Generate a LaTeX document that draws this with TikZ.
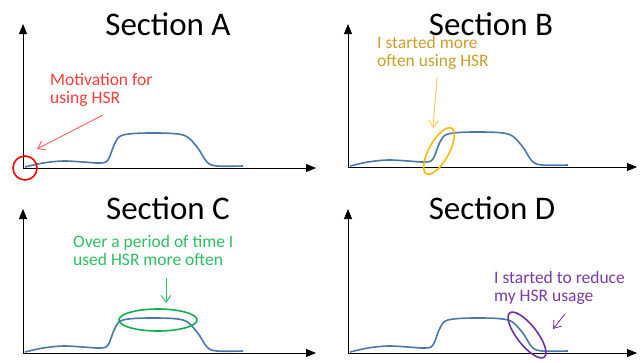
\documentclass[tikz,border=0pt]{standalone}
\usepackage{fontspec}
\setmainfont{Carlito}
\usetikzlibrary{arrows.meta,shapes.geometric}
\definecolor{curveblue}{HTML}{4A78AA}
\definecolor{notered}{HTML}{FF3B3B}
\definecolor{arrowred}{HTML}{FF6060}
\definecolor{ringred}{HTML}{FF0000}
\definecolor{notegold}{HTML}{C9A02A}
\definecolor{ringgold}{HTML}{FFBB00}
\definecolor{arrowgold}{HTML}{FFC84A}
\definecolor{notegreen}{HTML}{2EBE62}
\definecolor{ringgreen}{HTML}{10B050}
\definecolor{notepurple}{HTML}{7A3AA6}
\definecolor{ringpurple}{HTML}{7030A0}
\begin{document}
\begin{tikzpicture}[x=1pt,y=-1pt,
  axis/.style={line width=0.8pt,-{Triangle[length=10pt,width=8pt]}},
  usage/.style={draw=curveblue,line width=1.6pt},
  usagecurve/.pic={\draw[usage] plot[smooth,tension=0.55] coordinates {(2,-1) (20,-5) (40,-7) (60,-6) (77,-5) (85,-8) (92,-25) (100,-33) (127,-35) (160,-33) (174,-21) (184,-6) (194,-2) (220,-2)};},
  sectitle/.style={font=\fontsize{33}{36}\selectfont,anchor=base,inner sep=0pt},
  note/.style={font=\fontsize{17.5}{18}\selectfont,align=left,anchor=base west,inner sep=0pt},
  pointer/.style={line width=0.9pt,-{Straight Barb[length=7pt,width=10pt]}},
  ringmark/.style={draw,ellipse,line width=1.6pt,inner sep=0pt}
]
\useasboundingbox (0,0) rectangle (643,362);
% ---------- Section A ----------
\coordinate (oA) at (23,168);
\coordinate (yA) at (23,24);
\coordinate (xA) at (316,168);
\draw[axis] (oA) -- (yA);
\draw[axis] (oA) -- (xA);
\pic at (oA) {usagecurve};
\node[sectitle] (tA) at (168,35) {Section A};
\node[note,text=notered] (nA) at (50,103) {Motivation for\\using HSR};
\coordinate (sA) at (103,115);
\coordinate (eA) at (37,149);
\draw[pointer,arrowred] (sA) -- (eA);
\node[ringmark,draw=ringred,minimum size=24pt,circle] (rA) at (25,168) {};
% ---------- Section B ----------
\coordinate (oB) at (348,167);
\coordinate (yB) at (348,24);
\coordinate (xB) at (637,167);
\draw[axis] (oB) -- (yB);
\draw[axis] (oB) -- (xB);
\pic at (oB) {usagecurve};
\node[sectitle] (tB) at (491,35) {Section B};
\node[note,text=notegold] (nB) at (377,66) {I started more\\often using HSR};
\coordinate (sB) at (437,78);
\coordinate (eB) at (433,128);
\draw[pointer,arrowgold] (sB) -- (eB);
\node[ringmark,draw=ringgold,minimum width=52pt,minimum height=20pt,rotate=61] (rB) at (439,151) {};
% ---------- Section C ----------
\coordinate (oC) at (23,353);
\coordinate (yC) at (23,209);
\coordinate (xC) at (316,353);
\draw[axis] (oC) -- (yC);
\draw[axis] (oC) -- (xC);
\pic at (oC) {usagecurve};
\node[sectitle] (tC) at (168,219) {Section C};
\node[note,text=notegreen] (nC) at (73,265) {Over a period of time I\\used HSR more often};
\coordinate (sC) at (166,278);
\coordinate (eC) at (166,303);
\draw[pointer,notegreen] (sC) -- (eC);
\node[ringmark,draw=ringgreen,minimum width=78pt,minimum height=22pt] (rC) at (158,320) {};
% ---------- Section D ----------
\coordinate (oD) at (348,353);
\coordinate (yD) at (348,209);
\coordinate (xD) at (637,353);
\draw[axis] (oD) -- (yD);
\draw[axis] (oD) -- (xD);
\pic at (oD) {usagecurve};
\node[sectitle] (tD) at (492,219) {Section D};
\node[note,text=notepurple] (nD) at (494,301) {I started to reduce\\my HSR usage};
\coordinate (sD) at (565,314);
\coordinate (eD) at (553,329);
\draw[pointer,notepurple] (sD) -- (eD);
\node[ringmark,draw=ringpurple,minimum width=56pt,minimum height=20pt,rotate=-52] (rD) at (527,335) {};
\end{tikzpicture}
\end{document}
